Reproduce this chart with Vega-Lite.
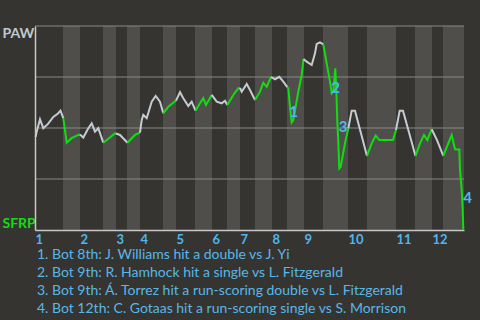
{
  "$schema": "https://vega.github.io/schema/vega-lite/v6.json",
  "autosize": "none",
  "width": 429,
  "height": 204,
  "padding": {"left": 35, "top": 26, "right": 16, "bottom": 90},
  "background": "#363430",
  "config": {
    "view": {"stroke": null},
    "axisX": {"labelOverlap": false, "labelFlush": false, "labelBound": false}
  },
  "title": {
    "text": [
      "1. Bot 8th: J. Williams hit a double vs J. Yi",
      "2. Bot 9th: R. Hamhock hit a single vs L. Fitzgerald",
      "3. Bot 9th: Á. Torrez hit a run-scoring double vs L. Fitzgerald",
      "4. Bot 12th: C. Gotaas hit a run-scoring single vs S. Morrison"
    ],
    "orient": "bottom",
    "anchor": "start",
    "frame": "group",
    "align": "left",
    "baseline": "top",
    "offset": 2,
    "dx": 2,
    "font": "Lato",
    "fontSize": 14,
    "fontWeight": "normal",
    "lineHeight": 18,
    "color": "#56b8ea"
  },
  "encoding": {
    "x": {"type": "quantitative", "scale": {"domain": [0, 429], "nice": false, "zero": false},
      "axis": {
        "values": [0, 45, 81, 105, 141, 177, 205, 237, 269, 313, 361, 397],
        "labelExpr": "indexof([0,45,81,105,141,177,205,237,269,313,361,397], datum.value) + 1",
        "title": null, "grid": false, "ticks": false, "tickSize": 0,
        "labelAlign": "left", "labelBaseline": "top", "labelPadding": 3,
        "labelFlush": false, "labelOverlap": false, "labelBound": false,
        "labelFont": "Lato", "labelFontSize": 13, "labelFontWeight": "bold", "labelColor": "#4fb6ee",
        "domainColor": "#c8c8c8", "domainWidth": 1.5, "zindex": 1
      }},
    "y": {"type": "quantitative", "scale": {"domain": [0, 1], "nice": false},
      "axis": {
        "values": [0, 1],
        "labelExpr": "datum.value == 1 ? 'PAW' : 'SFRP'",
        "title": null, "grid": false, "ticks": false, "tickSize": 0,
        "labelAlign": "left", "labelPadding": 33, "labelFlush": true, "labelBound": false,
        "labelFont": "Lato", "labelFontSize": 14, "labelFontWeight": "bold",
        "labelColor": {"condition": {"test": "datum.value == 1", "value": "#c0cad2"}, "value": "#11dd11"},
        "domainColor": "#c8c8c8", "domainWidth": 1.5, "zindex": 1
      }}
  },
  "layer": [
    {
      "data": {"values": [
        {"s": 28, "e": 45}, {"s": 68, "e": 81}, {"s": 92, "e": 105}, {"s": 128, "e": 141},
        {"s": 160, "e": 177}, {"s": 192, "e": 205}, {"s": 220, "e": 237}, {"s": 252, "e": 269},
        {"s": 288, "e": 313}, {"s": 332, "e": 361}, {"s": 380, "e": 397}, {"s": 408, "e": 429}
      ]},
      "mark": {"type": "rect", "color": "#504e4b"},
      "encoding": {
        "x": {"field": "s"},
        "x2": {"field": "e"},
        "y": {"datum": 0},
        "y2": {"datum": 1}
      }
    },
    {
      "data": {"values": [{"v": 0.25}, {"v": 0.5}, {"v": 0.75}, {"v": 1}]},
      "mark": {"type": "rule", "color": "#8a8784", "strokeWidth": 1},
      "encoding": {"y": {"field": "v"}}
    },
    {
      "data": {"values": [
        {"x": 0.7, "p": 0.457, "seg": "T1", "team": "PAW"},
        {"x": 1.7, "p": 0.482, "seg": "T1", "team": "PAW"},
        {"x": 5, "p": 0.543, "seg": "T1", "team": "PAW"},
        {"x": 8.3, "p": 0.499, "seg": "T1", "team": "PAW"},
        {"x": 13, "p": 0.52, "seg": "T1", "team": "PAW"},
        {"x": 18.3, "p": 0.554, "seg": "T1", "team": "PAW"},
        {"x": 23, "p": 0.571, "seg": "T1", "team": "PAW"},
        {"x": 25.5, "p": 0.585, "seg": "T1", "team": "PAW"},
        {"x": 28.3, "p": 0.548, "seg": "T1", "team": "PAW"},
        {"x": 28.3, "p": 0.548, "seg": "B1", "team": "SFRP"},
        {"x": 31.7, "p": 0.428, "seg": "B1", "team": "SFRP"},
        {"x": 36.7, "p": 0.45, "seg": "B1", "team": "SFRP"},
        {"x": 43.3, "p": 0.466, "seg": "B1", "team": "SFRP"},
        {"x": 45, "p": 0.468, "seg": "B1", "team": "SFRP"},
        {"x": 45, "p": 0.468, "seg": "T2", "team": "PAW"},
        {"x": 48.3, "p": 0.453, "seg": "T2", "team": "PAW"},
        {"x": 53.3, "p": 0.499, "seg": "T2", "team": "PAW"},
        {"x": 56.7, "p": 0.523, "seg": "T2", "team": "PAW"},
        {"x": 60, "p": 0.482, "seg": "T2", "team": "PAW"},
        {"x": 63.3, "p": 0.499, "seg": "T2", "team": "PAW"},
        {"x": 68.3, "p": 0.428, "seg": "T2", "team": "PAW"},
        {"x": 68.3, "p": 0.428, "seg": "B2", "team": "SFRP"},
        {"x": 75, "p": 0.453, "seg": "B2", "team": "SFRP"},
        {"x": 80, "p": 0.474, "seg": "B2", "team": "SFRP"},
        {"x": 81, "p": 0.473, "seg": "B2", "team": "SFRP"},
        {"x": 81, "p": 0.473, "seg": "T3", "team": "PAW"},
        {"x": 85, "p": 0.466, "seg": "T3", "team": "PAW"},
        {"x": 92.5, "p": 0.428, "seg": "T3", "team": "PAW"},
        {"x": 92.5, "p": 0.428, "seg": "B3", "team": "SFRP"},
        {"x": 100, "p": 0.466, "seg": "B3", "team": "SFRP"},
        {"x": 105, "p": 0.477, "seg": "B3", "team": "SFRP"},
        {"x": 105, "p": 0.477, "seg": "T4", "team": "PAW"},
        {"x": 106.7, "p": 0.539, "seg": "T4", "team": "PAW"},
        {"x": 108.3, "p": 0.564, "seg": "T4", "team": "PAW"},
        {"x": 111.7, "p": 0.548, "seg": "T4", "team": "PAW"},
        {"x": 116.7, "p": 0.629, "seg": "T4", "team": "PAW"},
        {"x": 120.7, "p": 0.657, "seg": "T4", "team": "PAW"},
        {"x": 125, "p": 0.629, "seg": "T4", "team": "PAW"},
        {"x": 128.3, "p": 0.572, "seg": "T4", "team": "PAW"},
        {"x": 128.3, "p": 0.572, "seg": "B4", "team": "SFRP"},
        {"x": 133.3, "p": 0.604, "seg": "B4", "team": "SFRP"},
        {"x": 138.3, "p": 0.624, "seg": "B4", "team": "SFRP"},
        {"x": 141, "p": 0.634, "seg": "B4", "team": "SFRP"},
        {"x": 141, "p": 0.634, "seg": "T5", "team": "PAW"},
        {"x": 145, "p": 0.675, "seg": "T5", "team": "PAW"},
        {"x": 148.3, "p": 0.646, "seg": "T5", "team": "PAW"},
        {"x": 153.3, "p": 0.608, "seg": "T5", "team": "PAW"},
        {"x": 156.7, "p": 0.629, "seg": "T5", "team": "PAW"},
        {"x": 160.5, "p": 0.585, "seg": "T5", "team": "PAW"},
        {"x": 160.5, "p": 0.585, "seg": "B5", "team": "SFRP"},
        {"x": 165, "p": 0.621, "seg": "B5", "team": "SFRP"},
        {"x": 168.3, "p": 0.646, "seg": "B5", "team": "SFRP"},
        {"x": 171, "p": 0.613, "seg": "B5", "team": "SFRP"},
        {"x": 176.7, "p": 0.662, "seg": "B5", "team": "SFRP"},
        {"x": 176.7, "p": 0.662, "seg": "T6", "team": "PAW"},
        {"x": 181.7, "p": 0.629, "seg": "T6", "team": "PAW"},
        {"x": 186.7, "p": 0.621, "seg": "T6", "team": "PAW"},
        {"x": 190, "p": 0.634, "seg": "T6", "team": "PAW"},
        {"x": 192.3, "p": 0.613, "seg": "T6", "team": "PAW"},
        {"x": 192.3, "p": 0.613, "seg": "B6", "team": "SFRP"},
        {"x": 198.3, "p": 0.662, "seg": "B6", "team": "SFRP"},
        {"x": 203.3, "p": 0.695, "seg": "B6", "team": "SFRP"},
        {"x": 205, "p": 0.696, "seg": "B6", "team": "SFRP"},
        {"x": 205, "p": 0.696, "seg": "T7", "team": "PAW"},
        {"x": 206.7, "p": 0.678, "seg": "T7", "team": "PAW"},
        {"x": 211.7, "p": 0.716, "seg": "T7", "team": "PAW"},
        {"x": 215, "p": 0.686, "seg": "T7", "team": "PAW"},
        {"x": 220, "p": 0.637, "seg": "T7", "team": "PAW"},
        {"x": 220, "p": 0.637, "seg": "B7", "team": "SFRP"},
        {"x": 225, "p": 0.678, "seg": "B7", "team": "SFRP"},
        {"x": 228.3, "p": 0.722, "seg": "B7", "team": "SFRP"},
        {"x": 231.7, "p": 0.702, "seg": "B7", "team": "SFRP"},
        {"x": 236, "p": 0.75, "seg": "B7", "team": "SFRP"},
        {"x": 236, "p": 0.75, "seg": "T8", "team": "PAW"},
        {"x": 240, "p": 0.739, "seg": "T8", "team": "PAW"},
        {"x": 244.3, "p": 0.751, "seg": "T8", "team": "PAW"},
        {"x": 248.3, "p": 0.727, "seg": "T8", "team": "PAW"},
        {"x": 252.3, "p": 0.7, "seg": "T8", "team": "PAW"},
        {"x": 252.3, "p": 0.7, "seg": "B8", "team": "SFRP"},
        {"x": 253.3, "p": 0.695, "seg": "B8", "team": "SFRP"},
        {"x": 255, "p": 0.604, "seg": "B8", "team": "SFRP"},
        {"x": 256.7, "p": 0.528, "seg": "B8", "team": "SFRP"},
        {"x": 258.3, "p": 0.539, "seg": "B8", "team": "SFRP"},
        {"x": 263.3, "p": 0.678, "seg": "B8", "team": "SFRP"},
        {"x": 266.7, "p": 0.76, "seg": "B8", "team": "SFRP"},
        {"x": 268.5, "p": 0.838, "seg": "B8", "team": "SFRP"},
        {"x": 268.5, "p": 0.838, "seg": "T9", "team": "PAW"},
        {"x": 271.7, "p": 0.825, "seg": "T9", "team": "PAW"},
        {"x": 276.7, "p": 0.809, "seg": "T9", "team": "PAW"},
        {"x": 280, "p": 0.866, "seg": "T9", "team": "PAW"},
        {"x": 281.7, "p": 0.912, "seg": "T9", "team": "PAW"},
        {"x": 285, "p": 0.92, "seg": "T9", "team": "PAW"},
        {"x": 288.3, "p": 0.91, "seg": "T9", "team": "PAW"},
        {"x": 288.3, "p": 0.91, "seg": "B9", "team": "SFRP"},
        {"x": 291.7, "p": 0.817, "seg": "B9", "team": "SFRP"},
        {"x": 295, "p": 0.727, "seg": "B9", "team": "SFRP"},
        {"x": 296.7, "p": 0.67, "seg": "B9", "team": "SFRP"},
        {"x": 298.3, "p": 0.68, "seg": "B9", "team": "SFRP"},
        {"x": 300.3, "p": 0.793, "seg": "B9", "team": "SFRP"},
        {"x": 301.5, "p": 0.662, "seg": "B9", "team": "SFRP"},
        {"x": 302.3, "p": 0.531, "seg": "B9", "team": "SFRP"},
        {"x": 303.3, "p": 0.433, "seg": "B9", "team": "SFRP"},
        {"x": 304.3, "p": 0.302, "seg": "B9", "team": "SFRP"},
        {"x": 305.7, "p": 0.31, "seg": "B9", "team": "SFRP"},
        {"x": 310, "p": 0.425, "seg": "B9", "team": "SFRP"},
        {"x": 313.3, "p": 0.499, "seg": "B9", "team": "SFRP"},
        {"x": 313.3, "p": 0.499, "seg": "T10", "team": "PAW"},
        {"x": 316.7, "p": 0.585, "seg": "T10", "team": "PAW"},
        {"x": 320, "p": 0.585, "seg": "T10", "team": "PAW"},
        {"x": 332, "p": 0.363, "seg": "T10", "team": "PAW"},
        {"x": 332, "p": 0.363, "seg": "B10", "team": "SFRP"},
        {"x": 336.7, "p": 0.425, "seg": "B10", "team": "SFRP"},
        {"x": 340.7, "p": 0.463, "seg": "B10", "team": "SFRP"},
        {"x": 344.3, "p": 0.441, "seg": "B10", "team": "SFRP"},
        {"x": 358, "p": 0.441, "seg": "B10", "team": "SFRP"},
        {"x": 361, "p": 0.49, "seg": "B10", "team": "SFRP"},
        {"x": 361, "p": 0.49, "seg": "T11", "team": "PAW"},
        {"x": 364.7, "p": 0.585, "seg": "T11", "team": "PAW"},
        {"x": 368, "p": 0.585, "seg": "T11", "team": "PAW"},
        {"x": 380.5, "p": 0.363, "seg": "T11", "team": "PAW"},
        {"x": 380.5, "p": 0.363, "seg": "B11", "team": "SFRP"},
        {"x": 385, "p": 0.425, "seg": "B11", "team": "SFRP"},
        {"x": 389, "p": 0.466, "seg": "B11", "team": "SFRP"},
        {"x": 392.3, "p": 0.441, "seg": "B11", "team": "SFRP"},
        {"x": 396.7, "p": 0.494, "seg": "B11", "team": "SFRP"},
        {"x": 396.7, "p": 0.494, "seg": "T12", "team": "PAW"},
        {"x": 402, "p": 0.441, "seg": "T12", "team": "PAW"},
        {"x": 408.3, "p": 0.363, "seg": "T12", "team": "PAW"},
        {"x": 408.3, "p": 0.363, "seg": "B12", "team": "SFRP"},
        {"x": 413.3, "p": 0.425, "seg": "B12", "team": "SFRP"},
        {"x": 416.7, "p": 0.466, "seg": "B12", "team": "SFRP"},
        {"x": 420, "p": 0.396, "seg": "B12", "team": "SFRP"},
        {"x": 424.3, "p": 0.395, "seg": "B12", "team": "SFRP"},
        {"x": 425, "p": 0.294, "seg": "B12", "team": "SFRP"},
        {"x": 426.7, "p": 0.196, "seg": "B12", "team": "SFRP"},
        {"x": 427.7, "p": 0.098, "seg": "B12", "team": "SFRP"},
        {"x": 428.3, "p": 0.003, "seg": "B12", "team": "SFRP"}
      ]},
      "mark": {"type": "line", "strokeWidth": 2, "strokeJoin": "miter", "interpolate": "linear"},
      "encoding": {
        "x": {"field": "x"},
        "y": {"field": "p"},
        "color": {"field": "team", "type": "nominal", "scale": {"domain": ["PAW", "SFRP"], "range": ["#c3ccd3", "#11dd11"]}, "legend": null},
        "detail": {"field": "seg"}
      }
    },
    {
      "data": {"values": [
        {"n": "1", "x": 258.5, "p": 0.576},
        {"n": "2", "x": 300.5, "p": 0.696},
        {"n": "3", "x": 308, "p": 0.507},
        {"n": "4", "x": 432.5, "p": 0.157}
      ]},
      "mark": {"type": "text", "font": "Lato", "fontSize": 15, "fontWeight": "bold", "color": "#4fb6ee", "align": "center", "baseline": "middle"},
      "encoding": {
        "x": {"field": "x"},
        "y": {"field": "p"},
        "text": {"field": "n"}
      }
    }
  ]
}
